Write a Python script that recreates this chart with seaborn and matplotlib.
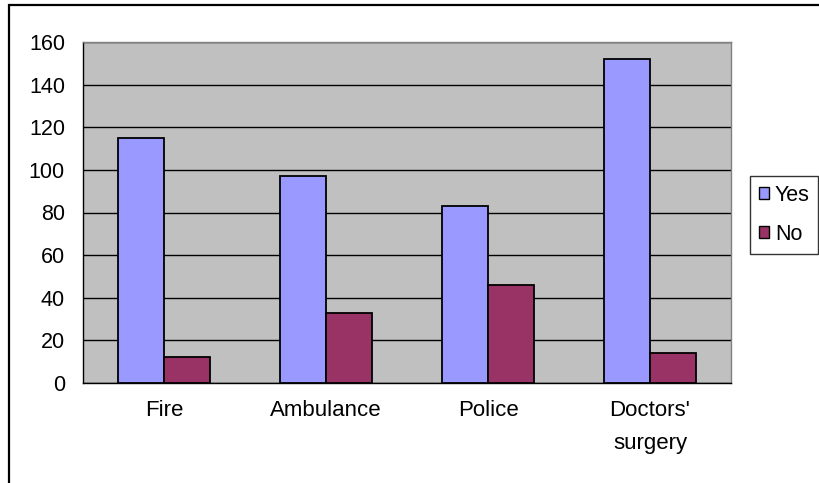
import matplotlib
matplotlib.use("Agg")
import matplotlib.pyplot as plt
from matplotlib.patches import Rectangle, Patch
import pandas as pd
import seaborn as sns

categories = ["Fire", "Ambulance", "Police", "Doctors'\nsurgery"]
yes_values = [115, 97, 83, 152]
no_values = [12, 33, 46, 14]
series_names = ["Yes", "No"]
y_ticks = [0, 20, 40, 60, 80, 100, 120, 140, 160]

df = pd.DataFrame({
    "category": categories * 2,
    "answer": [series_names[0]] * len(categories) + [series_names[1]] * len(categories),
    "count": yes_values + no_values,
})

sns.set_theme(style="white")
plt.rcParams["font.family"] = ["Liberation Sans", "DejaVu Sans"]
plt.rcParams["text.color"] = "black"
plt.rcParams["xtick.color"] = "black"
plt.rcParams["ytick.color"] = "black"
plt.rcParams["xtick.labelcolor"] = "black"
plt.rcParams["ytick.labelcolor"] = "black"

colors = {"Yes": "#9999FF", "No": "#993366"}

fig = plt.figure(figsize=(8.19, 4.83), dpi=100)
ax = fig.add_axes([83 / 819, 100 / 483, 648 / 819, 341 / 483])
ax.set_facecolor("#C0C0C0")

sns.barplot(data=df, x="category", y="count", hue="answer", palette=colors,
            width=0.572, gap=0, edgecolor="black", linewidth=1.3,
            saturation=1, legend=False, ax=ax, zorder=3)

ax.set_xlim(-0.5, 3.5)
ax.set_ylim(0, 160)
ax.set_yticks(y_ticks)
ax.yaxis.grid(True, color="black", linewidth=1.0, zorder=1)
ax.set_axisbelow(True)

# ticks at category boundaries, labels centred under the groups
ax.set_xticks([-0.5, 0.5, 1.5, 2.5, 3.5])
ax.set_xticklabels([])
ax.set_xticks(range(len(categories)), minor=True)
ax.set_xticklabels(categories, minor=True, fontsize=16, linespacing=1.8, va="top")
ax.tick_params(axis="x", which="major", direction="out", length=7, width=1, color="black")
ax.tick_params(axis="x", which="minor", length=0, pad=12)
ax.tick_params(axis="y", direction="out", length=7, width=1, color="black",
               labelsize=15.5, pad=6)
ax.set_xlabel("")
ax.set_ylabel("")

for side in ["left", "bottom"]:
    ax.spines[side].set_color("black")
    ax.spines[side].set_linewidth(1.0)
for side in ["top", "right"]:
    ax.spines[side].set_color("#808080")
    ax.spines[side].set_linewidth(1.0)

handles = [Patch(facecolor=colors[s], edgecolor="black", linewidth=1.0) for s in series_names]
leg = fig.legend(handles, series_names, loc="upper left",
                 bbox_to_anchor=(750 / 819, 1 - 176 / 483), fontsize=15.5,
                 frameon=True, fancybox=False, handlelength=0.5, handleheight=0.5,
                 handletextpad=0.25, borderpad=0.4, labelspacing=0.85, borderaxespad=0)
leg.get_frame().set_edgecolor("black")
leg.get_frame().set_linewidth(1.0)

# outer chart border (right/bottom run off the picture)
fig.patches.append(Rectangle((9 / 819, -0.1), 1.2, 1 - 5 / 483 + 0.1,
                             transform=fig.transFigure, fill=False,
                             edgecolor="black", linewidth=1.6))

fig.savefig("out.png", dpi=100, facecolor="white")
